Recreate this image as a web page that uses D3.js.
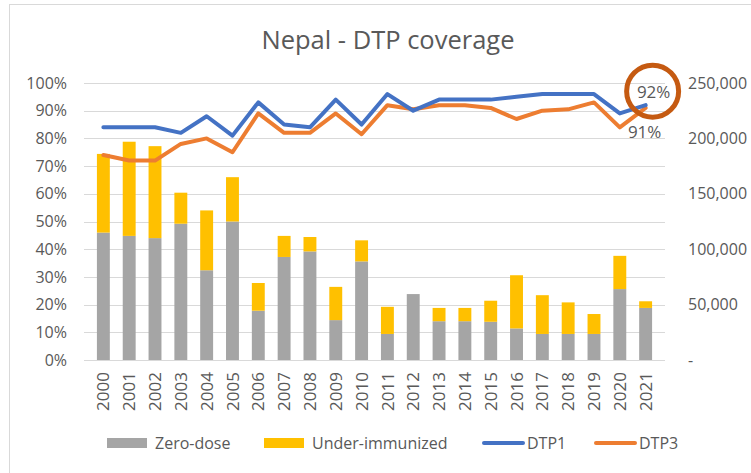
<!DOCTYPE html>
<html>
<head>
<meta charset="utf-8">
<script src="https://cdn.jsdelivr.net/npm/d3@7"></script>
<style>
  body { margin: 0; background: #fff; }
  text { font-family: "Open Sans", "Noto Sans", sans-serif; fill: #595959; }
</style>
</head>
<body>
<svg id="chart"></svg>
<script>
var years = ["2000","2001","2002","2003","2004","2005","2006","2007","2008","2009","2010",
    "2011","2012","2013","2014","2015","2016","2017","2018","2019","2020","2021"]
// children, right axis
var zeroDose = [115000,112000,110000,123000,81000,125000,44500,93000,98000,36000,89000,
    23500,59500,35000,35000,34500,28500,23500,23500,23500,64000,47000]
var underImmunized = [71000,85000,83000,28000,54000,40000,25000,19000,13000,30000,19000,
    24500,0,12000,12000,19000,48000,35000,28500,18000,30000,6000]
// coverage %, left axis
var dtp1 = [84,84,84,82,88,81,93,85,84,94,85,96,90,94,94,94,95,96,96,96,89,92]
var dtp3 = [74,72,72,78,80,75,89,82,82,89,81.5,92,90.5,92,92,91,87,90,90.5,93,84,91]
var leftTicks = [0,10,20,30,40,50,60,70,80,90,100]
var rightTicks = [0,50000,100000,150000,200000,250000]

var W = 751, H = 473
var margin = {top: 83, left: 84, right: 86, bottom: 113}
var width = W - margin.left - margin.right
var height = H - margin.top - margin.bottom

var svg = d3.select("#chart").attr("width", W).attr("height", H)

// chart frame (only top/left edges are visible)
svg.append("rect")
    .attr("x", 9.5).attr("y", 4.5)
    .attr("width", W + 20).attr("height", H + 20)
    .attr("fill", "none").attr("stroke", "#d9d9d9")

svg.append("text")
    .text("Nepal - DTP coverage")
    .attr("x", 388).attr("y", 49)
    .attr("text-anchor", "middle")
    .style("font-size", "25.5px")

var g = svg.append("g").attr("transform", "translate(" + margin.left + "," + margin.top + ")")

var x = d3.scaleBand().domain(years).range([0, width]).padding(0.5)
var yL = d3.scaleLinear().domain([0, 100]).range([height, 0])
var yR = d3.scaleLinear().domain([0, 250000]).range([height, 0])

// gridlines
g.append("g").selectAll("line")
    .data(leftTicks).enter().append("line")
    .attr("x1", 0).attr("x2", width)
    .attr("y1", function(d){ return Math.round(yL(d)) + 0.5 })
    .attr("y2", function(d){ return Math.round(yL(d)) + 0.5 })
    .attr("stroke", "#d9d9d9").attr("stroke-width", 1.2)

// left axis
var leftAxis = g.append("g")
    .call(d3.axisLeft(yL).tickValues(leftTicks).tickSize(0).tickPadding(17)
        .tickFormat(function(d){ return d + "%" }))
leftAxis.select(".domain").remove()
leftAxis.selectAll("text").style("font-size", "16px").attr("fill", "#595959")

// right axis
var rightAxis = g.append("g")
    .attr("transform", "translate(" + width + ",0)")
    .call(d3.axisRight(yR).tickValues(rightTicks).tickSize(0).tickPadding(23)
        .tickFormat(function(d){ return d === 0 ? "-" : d3.format(",")(d) }))
rightAxis.select(".domain").remove()
rightAxis.selectAll("text").style("font-size", "16px").attr("fill", "#595959")

// x axis
var xAxis = g.append("g")
    .attr("transform", "translate(0," + height + ")")
    .call(d3.axisBottom(x).tickSize(0).tickPadding(0))
xAxis.select(".domain").remove()
xAxis.selectAll("text")
    .style("font-size", "17px")
    .attr("fill", "#595959")
    .attr("transform", "rotate(-90)")
    .attr("text-anchor", "end")
    .attr("x", -12).attr("y", 0).attr("dy", "0.36em")

// stacked bars
var stackData = years.map(function(y, i){
    return {year: y, zero: zeroDose[i], under: underImmunized[i]}
})
var series = d3.stack().keys(["zero", "under"])(stackData)
var barColors = {zero: "#a5a5a5", under: "#ffc000"}

g.append("g").selectAll("g")
    .data(series).enter().append("g")
    .attr("fill", function(d){ return barColors[d.key] })
    .selectAll("rect")
    .data(function(d){ return d }).enter().append("rect")
    .attr("x", function(d){ return x(d.data.year) })
    .attr("width", x.bandwidth())
    .attr("y", function(d){ return yR(d[1]) })
    .attr("height", function(d){ return yR(d[0]) - yR(d[1]) })

// lines
var line = d3.line()
    .x(function(d, i){ return x(years[i]) + x.bandwidth() / 2 })
    .y(function(d){ return yL(d) })

g.append("path").datum(dtp3)
    .attr("d", line).attr("fill", "none")
    .attr("stroke", "#ed7d31").attr("stroke-width", 4)
    .attr("stroke-linejoin", "round").attr("stroke-linecap", "round")
g.append("path").datum(dtp1)
    .attr("d", line).attr("fill", "none")
    .attr("stroke", "#4472c4").attr("stroke-width", 4)
    .attr("stroke-linejoin", "round").attr("stroke-linecap", "round")

// end labels + highlight
var lastX = x(years[years.length - 1]) + x.bandwidth() / 2
g.append("text")
    .text(dtp1[dtp1.length - 1] + "%")
    .attr("x", lastX + 8).attr("y", yL(dtp1[dtp1.length - 1]) - 7)
    .attr("text-anchor", "middle")
    .style("font-size", "17px")
g.append("text")
    .text(dtp3[dtp3.length - 1] + "%")
    .attr("x", lastX - 1).attr("y", yL(dtp3[dtp3.length - 1]) + 30)
    .attr("text-anchor", "middle")
    .style("font-size", "17px")
g.append("circle")
    .attr("cx", lastX + 7).attr("cy", yL(dtp1[dtp1.length - 1]) - 14)
    .attr("r", 26)
    .attr("fill", "none").attr("stroke", "#c55a11").attr("stroke-width", 5)

// legend
var legendItems = [
    {name: "Zero-dose", color: "#a5a5a5", type: "box", x: 107},
    {name: "Under-immunized", color: "#ffc000", type: "box", x: 264},
    {name: "DTP1", color: "#4472c4", type: "line", x: 482},
    {name: "DTP3", color: "#ed7d31", type: "line", x: 594}
]
var legend = svg.append("g")
legendItems.forEach(function(d){
    if (d.type === "box") {
        legend.append("rect")
            .attr("x", d.x).attr("y", 438)
            .attr("width", 40).attr("height", 10)
            .attr("fill", d.color)
        legend.append("text").text(d.name)
            .attr("x", d.x + 48).attr("y", 449)
            .style("font-size", "16px")
    } else {
        legend.append("line")
            .attr("x1", d.x + 2).attr("x2", d.x + 41)
            .attr("y1", 443).attr("y2", 443)
            .attr("stroke", d.color).attr("stroke-width", 4)
            .attr("stroke-linecap", "round")
        legend.append("text").text(d.name)
            .attr("x", d.x + 45).attr("y", 449)
            .style("font-size", "16px")
    }
})
</script>
</body>
</html>
